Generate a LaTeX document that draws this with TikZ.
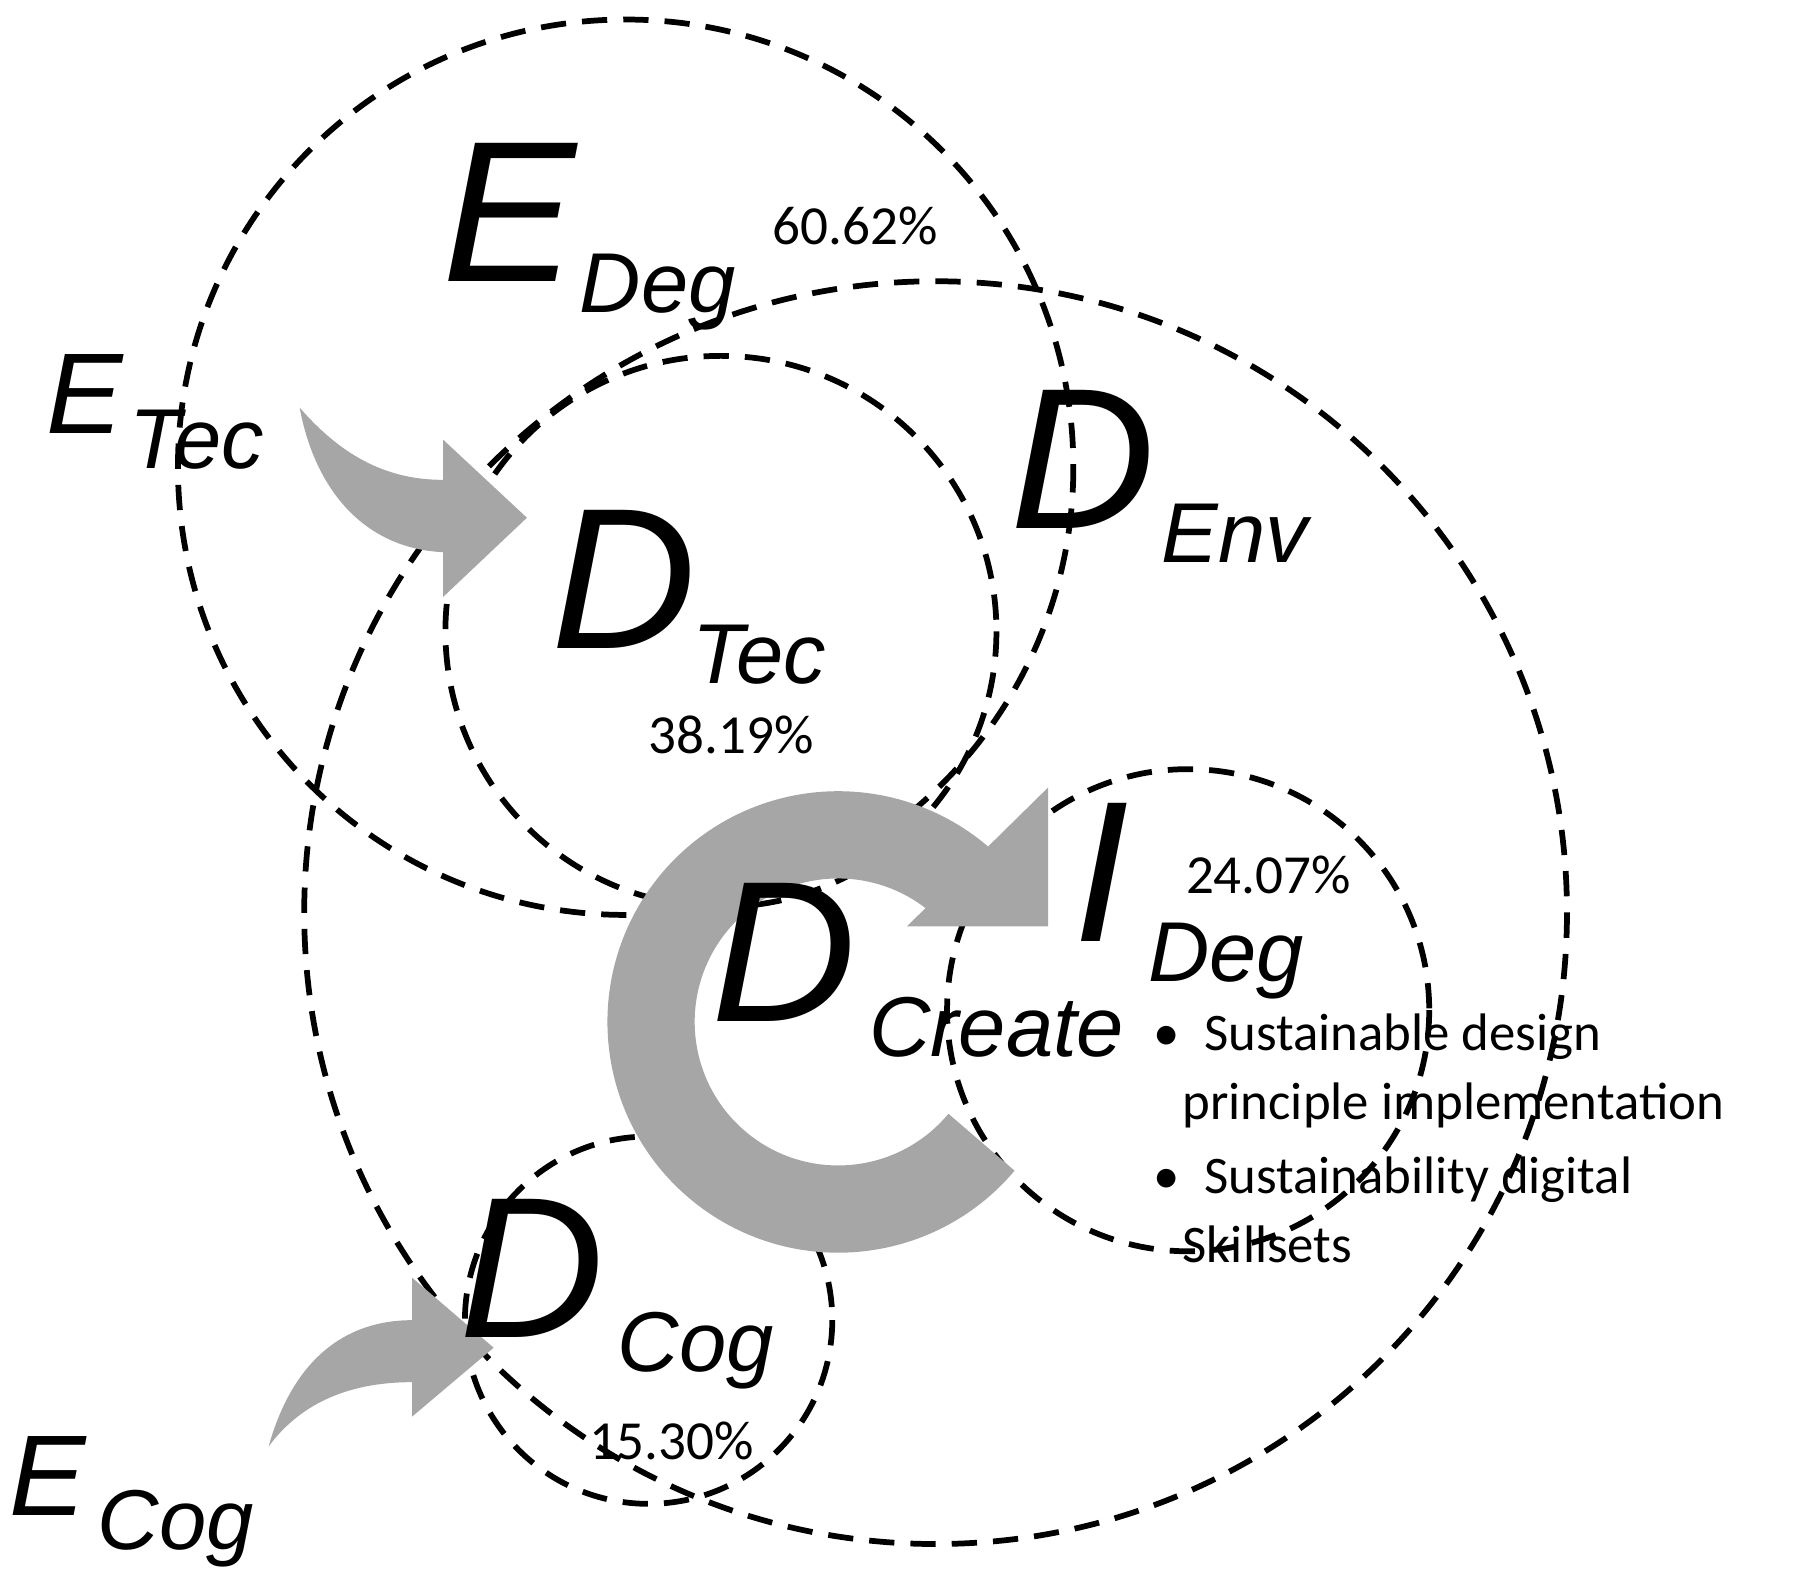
\documentclass[tikz,border=0pt]{standalone}
\usepackage{fontspec}
\setmainfont{Carlito}
\newfontfamily\arl{Liberation Sans}
\definecolor{ag}{HTML}{A6A6A6}
\begin{document}
\begin{tikzpicture}[x=1pt,y=-1pt,
 dc/.style={draw=black,line width=5pt,dash pattern=on 22pt off 14pt},
 big/.style={anchor=base west,inner sep=0,font=\arl\fontsize{175}{175}\selectfont\itshape},
 mid/.style={anchor=base west,inner sep=0,font=\arl\fontsize{100}{100}\selectfont\itshape},
 sub/.style={anchor=base west,inner sep=0,font=\arl\fontsize{74}{74}\selectfont\itshape},
 pct/.style={inner sep=0,font=\fontsize{48}{48}\selectfont},
 bl/.style={anchor=base west,inner sep=0,font=\fontsize{46}{46}\selectfont},
 gf/.style={fill=ag,draw=none}]
\useasboundingbox (0,0) rectangle (1568,1376);
% circles
\draw[dc] (545,407) circle[radius=390];
\draw[dc] (815,795) circle[radius=550];
\draw[dc] (628,550) circle[radius=240];
\draw[dc] (1035,880) circle[radius=210];
\draw[dc] (565,1150) circle[radius=160];
% arrows
\draw[draw=ag,line width=76pt] (855,995) arc[start angle=40,end angle=313,radius=163];
\fill[gf] (913,686) -- (913,807) -- (790,807) -- cycle;
\fill[gf] (261,355) .. controls (300,400) and (340,418) .. (386,418) -- (386,383) -- (459,451) -- (386,520) -- (386,481) .. controls (320,478) and (275,430) .. (261,355) -- cycle;
\fill[gf] (234,1260) .. controls (255,1185) and (300,1150) .. (359,1150) -- (359,1113) -- (430,1174) -- (359,1234) -- (359,1204) .. controls (300,1204) and (260,1225) .. (234,1260) -- cycle;
% labels
\node[big] (e1) at (385,245) {E};
\node[sub] (e1s) at (505,272) {Deg};
\node[pct] (p1) at (745,197) {60.62\%};
\node[mid] (e2) at (40,378) {E};
\node[sub] (e2s) at (113,408) {Tec};
\node[big] (d1) at (480,565) {D};
\node[sub] (d1s) at (603,595) {Tec};
\node[pct] (p2) at (637,640) {38.19\%};
\node[big] (d2) at (880,460) {D};
\node[sub] (d2s) at (1012,490) {Env};
\node[big] (d3) at (620,890) {D};
\node[sub] (d3s) at (757,920) {Create};
\node[big] (i1) at (935,820) {I};
\node[sub] (i1s) at (1000,855) {Deg};
\node[pct] (p3) at (1105,762) {24.07\%};
\node[big] (d4) at (400,1165) {D};
\node[sub] (d4s) at (538,1195) {Cog};
\node[pct] (p4) at (585,1255) {15.30\%};
\node[mid] (e3) at (8,1320) {E};
\node[sub] (e3s) at (85,1350) {Cog};
\node[bl] (b1) at (1005,915) {•\ \ Sustainable design};
\node[bl] (b2) at (1030,975) {principle implementation};
\node[bl] (b3) at (1005,1040) {•\ \ Sustainability digital};
\node[bl] (b4) at (1030,1100) {Skillsets};
\end{tikzpicture}
\end{document}
